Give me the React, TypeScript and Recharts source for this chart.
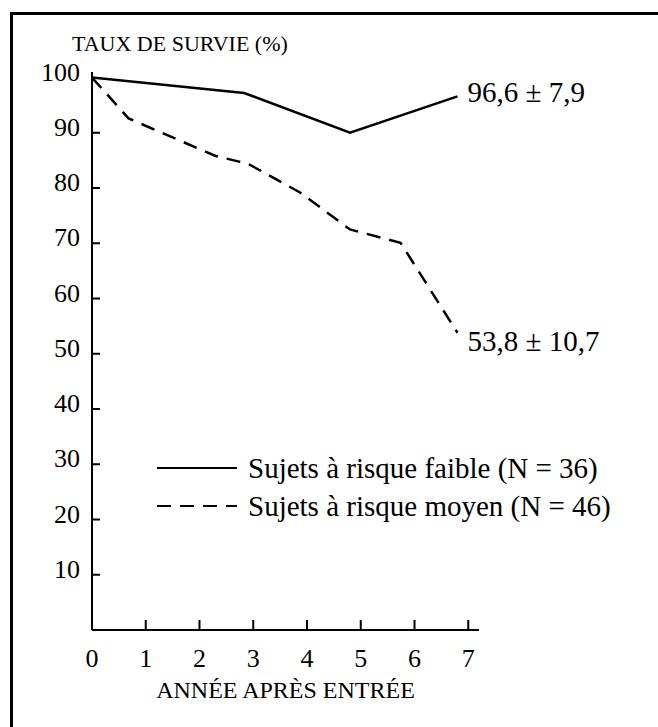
import { LineChart, Line, XAxis, YAxis, Legend, Label } from "recharts"

const lowRiskYears = [0, 2.83, 4.8, 6.8]
const lowRiskRates = [100, 97.2, 90, 96.6]
const midRiskYears = [0, 0.68, 2.3, 2.9, 3.87, 4.8, 5.74, 6.8]
const midRiskRates = [100, 92.6, 85.8, 84.4, 79.2, 72.5, 70.1, 53.8]

const seriesNames = ["Sujets à risque faible (N = 36)", "Sujets à risque moyen (N = 46)"]
const endLabels = ["96,6 ± 7,9", "53,8 ± 10,7"]
const xTicks = [0, 1, 2, 3, 4, 5, 6, 7]
const yTicks = [10, 20, 30, 40, 50, 60, 70, 80, 90, 100]

const lowRisk = lowRiskYears.map((year, i) => ({ year, rate: lowRiskRates[i] }))
const midRisk = midRiskYears.map((year, i) => ({ year, rate: midRiskRates[i] }))

const FONT = '"Liberation Serif", "Times New Roman", serif'

function YTick({ x, y, payload }: any) {
  return (
    <g>
      {payload.value !== 100 && (
        <line x1={x} x2={x + 8} y1={y} y2={y} stroke="#000" strokeWidth={2} />
      )}
      <text x={x - 12} y={y - 6} dy="0.35em" textAnchor="end" fontSize={26} fontFamily={FONT} fill="#000">
        {payload.value}
      </text>
    </g>
  )
}

function XTick({ x, y, payload }: any) {
  return (
    <g>
      {payload.value !== 0 && (
        <line x1={x} x2={x} y1={y} y2={y - 10} stroke="#000" strokeWidth={2} />
      )}
      <text x={x} y={y + 28} dy="0.35em" textAnchor="middle" fontSize={26} fontFamily={FONT} fill="#000">
        {payload.value}
      </text>
    </g>
  )
}

function endLabel(text: string, last: number, dy: number) {
  return (props: any) => {
    if (props.index !== last) return <g />
    return (
      <text x={props.x + 10} y={props.y + dy} dy="0.35em" fontSize={29} fontFamily={FONT} fill="#000">
        {text}
      </text>
    )
  }
}

function LegendBox({ payload }: any) {
  return (
    <div style={{ fontFamily: FONT, fontSize: 29, color: "#000", lineHeight: 1 }}>
      {(payload || []).map((entry: any, i: number) => (
        <div key={i} style={{ display: "flex", alignItems: "center", height: 38 }}>
          <svg width={80} height={10} style={{ marginRight: 11 }}>
            <line
              x1={0}
              x2={80}
              y1={5}
              y2={5}
              stroke="#000"
              strokeWidth={2}
              strokeDasharray={i === 1 ? "14 9" : undefined}
            />
          </svg>
          <span>{entry.value}</span>
        </div>
      ))}
    </div>
  )
}

export default function App() {
  return (
    <div style={{ position: "absolute", left: 0, top: 0, width: 658, height: 727, background: "#fff", overflow: "hidden" }}>
      <div
        style={{
          position: "absolute",
          left: 10,
          top: 12,
          width: 700,
          height: 760,
          borderTop: "3px solid #000",
          borderLeft: "3px solid #000",
        }}
      />
      <LineChart
        width={658}
        height={727}
        margin={{ top: 72, right: 179, bottom: 0, left: 0 }}
        style={{ position: "absolute", left: 0, top: 0 }}
      >
        <XAxis
          type="number"
          dataKey="year"
          domain={[0, 7.2]}
          ticks={xTicks}
          height={97}
          tickSize={0}
          tickMargin={0}
          tickLine={false}
          axisLine={{ stroke: "#000", strokeWidth: 2 }}
          tick={<XTick />}
          allowDataOverflow
        >
          <Label
            value="ANNÉE APRÈS ENTRÉE"
            content={({ viewBox }: any) => (
              <text
                x={viewBox.x + viewBox.width / 2}
                y={viewBox.y + 60}
                dy="0.35em"
                textAnchor="middle"
                fontSize={24}
                fontFamily={FONT}
                fill="#000"
              >
                ANNÉE APRÈS ENTRÉE
              </text>
            )}
          />
        </XAxis>
        <YAxis
          type="number"
          domain={[0, 101]}
          ticks={yTicks}
          width={92}
          tickSize={0}
          tickMargin={0}
          tickLine={false}
          axisLine={{ stroke: "#000", strokeWidth: 2 }}
          tick={<YTick />}
          allowDataOverflow
        >
          <Label
            value="TAUX DE SURVIE (%)"
            content={({ viewBox }: any) => (
              <text
                x={viewBox.x + viewBox.width - 20}
                y={viewBox.y - 29}
                dy="0.35em"
                fontSize={22}
                fontFamily={FONT}
                fill="#000"
              >
                TAUX DE SURVIE (%)
              </text>
            )}
          />
        </YAxis>
        <Legend
          layout="vertical"
          align="center"
          verticalAlign="middle"
          content={<LegendBox />}
          wrapperStyle={{ position: "absolute", left: 157, top: 449, width: 490 }}
        />
        <Line
          data={lowRisk}
          dataKey="rate"
          name={seriesNames[0]}
          type="linear"
          stroke="#000"
          strokeWidth={2.5}
          dot={false}
          isAnimationActive={false}
          label={endLabel(endLabels[0], lowRisk.length - 1, -4)}
        />
        <Line
          data={midRisk}
          dataKey="rate"
          name={seriesNames[1]}
          type="linear"
          stroke="#000"
          strokeWidth={2.5}
          strokeDasharray="14 9"
          dot={false}
          isAnimationActive={false}
          label={endLabel(endLabels[1], midRisk.length - 1, 8)}
        />
      </LineChart>
    </div>
  )
}
